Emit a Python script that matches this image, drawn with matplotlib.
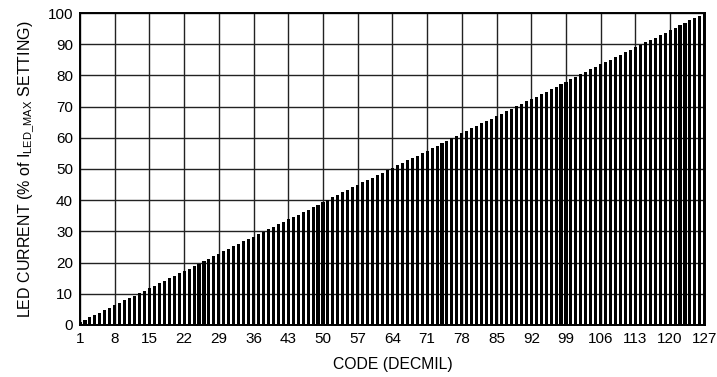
import matplotlib
matplotlib.use("Agg")
import matplotlib.pyplot as plt

# LED current vs code
codes = list(range(1, 128))
led_current = [
    0.8, 1.6, 2.4, 3.1, 3.9, 4.7, 5.5, 6.3, 7.1, 7.9,
    8.7, 9.4, 10.2, 11.0, 11.8, 12.6, 13.4, 14.2, 15.0, 15.7,
    16.5, 17.3, 18.1, 18.9, 19.7, 20.5, 21.3, 22.0, 22.8, 23.6,
    24.4, 25.2, 26.0, 26.8, 27.6, 28.3, 29.1, 29.9, 30.7, 31.5,
    32.3, 33.1, 33.9, 34.6, 35.4, 36.2, 37.0, 37.8, 38.6, 39.4,
    40.2, 40.9, 41.7, 42.5, 43.3, 44.1, 44.9, 45.7, 46.5, 47.2,
    48.0, 48.8, 49.6, 50.4, 51.2, 52.0, 52.8, 53.5, 54.3, 55.1,
    55.9, 56.7, 57.5, 58.3, 59.1, 59.8, 60.6, 61.4, 62.2, 63.0,
    63.8, 64.6, 65.4, 66.1, 66.9, 67.7, 68.5, 69.3, 70.1, 70.9,
    71.7, 72.4, 73.2, 74.0, 74.8, 75.6, 76.4, 77.2, 78.0, 78.7,
    79.5, 80.3, 81.1, 81.9, 82.7, 83.5, 84.3, 85.0, 85.8, 86.6,
    87.4, 88.2, 89.0, 89.8, 90.6, 91.3, 92.1, 92.9, 93.7, 94.5,
    95.3, 96.1, 96.9, 97.6, 98.4, 99.2, 100.0,
]
x_ticks = [1, 8, 15, 22, 29, 36, 43, 50, 57, 64, 71, 78, 85, 92, 99, 106, 113, 120, 127]
y_ticks = [0, 10, 20, 30, 40, 50, 60, 70, 80, 90, 100]

plt.rcParams['font.family'] = ['Liberation Sans', 'DejaVu Sans']

fig = plt.figure(figsize=(7.17, 3.77), dpi=100)
ax = fig.add_axes([0.1116, 0.138, 0.8714, 0.8275])

ax.bar(codes, led_current, width=0.62, color='black', edgecolor='none', zorder=3)

ax.set_xlim(1, 127)
ax.set_ylim(0, 100)
ax.set_xticks(x_ticks)
ax.set_xticklabels([str(t) for t in x_ticks])
ax.set_yticks(y_ticks)
ax.set_yticklabels([str(t) for t in y_ticks])
ax.tick_params(axis='both', length=0, labelsize=11, pad=5)

ax.grid(True, color='#222222', linewidth=1.0, zorder=0)
ax.set_axisbelow(True)
for s in ax.spines.values():
    s.set_linewidth(1.4)
    s.set_color('black')

ax.set_xlabel('CODE (DECMIL)', fontsize=11.3, labelpad=8)
ax.set_ylabel(r'LED CURRENT (% of I$_{\mathregular{LED\_MAX}}$ SETTING)', fontsize=11.5, labelpad=8)

fig.savefig('out.png', dpi=100)
